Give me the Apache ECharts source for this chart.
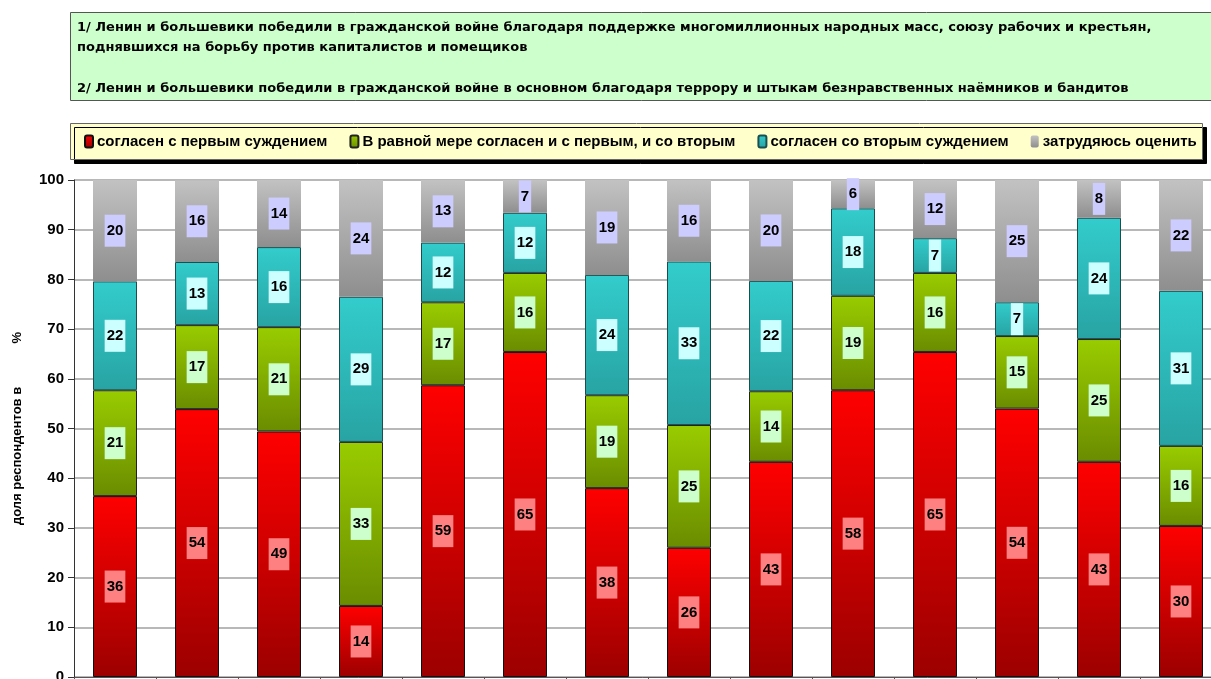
<!DOCTYPE html>
<html>
<head>
<meta charset="utf-8">
<script src="https://cdn.jsdelivr.net/npm/echarts@6/dist/echarts.min.js"></script>
<style>
  body { margin: 0; background: #ffffff; }
  #chart { width: 1211px; height: 679px; }
</style>
</head>
<body>
<div id="chart"></div>
<script>
const categories = ['1', '2', '3', '4', '5', '6', '7', '8', '9', '10', '11', '12', '13', '14'];
const seriesNames = [
    'согласен с первым суждением',
    'В равной мере согласен и с первым, и со вторым',
    'согласен со вторым суждением',
    'затрудяюсь оценить'
];
const agreeFirst  = [36.4, 53.9, 49.4, 14.3, 58.7, 65.4, 38.0, 26.0, 43.3, 57.7, 65.4, 54.0, 43.3, 30.4];
const agreeBoth   = [21.3, 16.9, 21.0, 33.0, 16.7, 15.9, 18.7, 24.7, 14.2, 19.0, 15.9, 14.6, 24.7, 16.1];
const agreeSecond = [21.9, 12.7, 16.1, 29.2, 12.0, 12.1, 24.2, 32.9, 22.2, 17.6, 7.0, 6.8, 24.4, 31.2];
const hardToSay   = [20.4, 16.4, 13.5, 23.5, 12.6, 6.6, 19.1, 16.4, 20.3, 5.7, 11.7, 24.6, 7.6, 22.3];
const yTicks = [0, 10, 20, 30, 40, 50, 60, 70, 80, 90, 100];

const titleLines = [
    '1/ Ленин и большевики победили в гражданской войне благодаря поддержке многомиллионных народных масс, союзу рабочих и крестьян,',
    'поднявшихся на борьбу против капиталистов и помещиков',
    '',
    '2/ Ленин и большевики победили в гражданской войне в основном благодаря террору и штыкам безнравственных наёмников и бандитов'
];

const FONT = 'Liberation Sans, Arial, sans-serif';

const chart = echarts.init(document.getElementById('chart'));

function grad(top, bottom) {
    return new echarts.graphic.LinearGradient(0, 0, 0, 1, [
        { offset: 0, color: top },
        { offset: 1, color: bottom }
    ]);
}

// стиль подписей внутри столбиков
function barLabel(bg) {
    return {
        show: true,
        position: 'inside',
        formatter: p => Math.round(p.value),
        color: '#000000',
        fontFamily: FONT,
        fontWeight: 'bold',
        fontSize: 15,
        lineHeight: 16,
        backgroundColor: bg,
        padding: [8, 2]
    };
}

function makeSeries(name, data, colorTop, colorBottom, border, labelBg) {
    return {
        name: name,
        type: 'bar',
        stack: 'total',
        barWidth: 44,
        data: data,
        itemStyle: {
            color: grad(colorTop, colorBottom),
            borderColor: border || 'transparent',
            borderWidth: border ? 1 : 0
        },
        label: barLabel(labelBg),
        emphasis: { disabled: true }
    };
}

const option = {
    backgroundColor: '#ffffff',
    animation: false,
    title: {
        text: titleLines.join('\n'),
        left: 77,
        top: 17,
        padding: 0,
        textStyle: {
            fontFamily: 'DejaVu Sans',
            fontWeight: 'bold',
            fontSize: 13,
            lineHeight: 20.5,
            color: '#000000'
        }
    },
    graphic: [
        {
            type: 'rect',
            z: -10,
            shape: { x: 70.5, y: 12.5, width: 1160, height: 88 },
            style: { fill: '#ccffcc', stroke: '#555555', lineWidth: 1 }
        },
        {
            type: 'rect',
            z: -10,
            shape: { x: 70.5, y: 123.5, width: 1132, height: 36 },
            style: {
                fill: '#ffffcc', stroke: '#666666', lineWidth: 1,
                shadowColor: '#000000', shadowOffsetX: 4, shadowOffsetY: 4, shadowBlur: 0
            }
        }
    ],
    legend: {
        left: 84,
        top: 134,
        padding: 0,
        itemWidth: 8,
        itemHeight: 12,
        itemGap: 22,
        selectedMode: false,
        textStyle: {
            fontFamily: FONT,
            fontWeight: 'bold',
            fontSize: 15,
            color: '#000000',
            padding: [0, 0, 0, -1]
        },
        data: seriesNames
    },
    grid: {
        left: 74,
        top: 180,
        width: 1148,
        bottom: 2,
        outerBoundsMode: 'none',
        containLabel: false
    },
    xAxis: {
        type: 'category',
        data: categories,
        axisLine: { lineStyle: { color: '#555555', width: 1 } },
        axisTick: { show: true, length: 6, lineStyle: { color: '#555555' } },
        axisLabel: { show: false }
    },
    yAxis: {
        type: 'value',
        min: yTicks[0],
        max: yTicks[yTicks.length - 1],
        interval: 10,
        name: 'доля респондентов в            %',
        nameLocation: 'middle',
        nameRotate: 90,
        nameGap: 50,
        nameTextStyle: {
            fontFamily: FONT,
            fontWeight: 'bold',
            fontSize: 13,
            color: '#000000'
        },
        axisLine: { show: true, lineStyle: { color: '#333333', width: 1 } },
        axisTick: { show: true, length: 6, lineStyle: { color: '#333333' } },
        axisLabel: {
            fontFamily: FONT,
            fontWeight: 'bold',
            fontSize: 15,
            color: '#000000',
            margin: 10
        },
        splitLine: { lineStyle: { color: '#b8b8b8', width: 2 } }
    },
    series: [
        makeSeries(seriesNames[0], agreeFirst, '#ff0000', '#9c0000', '#111111', '#ff8080'),
        makeSeries(seriesNames[1], agreeBoth, '#99cc00', '#6a8c00', '#222222', '#ccffcc'),
        makeSeries(seriesNames[2], agreeSecond, '#33cccc', '#28a3a3', '#1b4f4f', '#ccffff'),
        makeSeries(seriesNames[3], hardToSay, '#c2c2c2', '#8e8e8e', null, '#ccccff')
    ]
};

chart.setOption(option);
</script>
</body>
</html>
